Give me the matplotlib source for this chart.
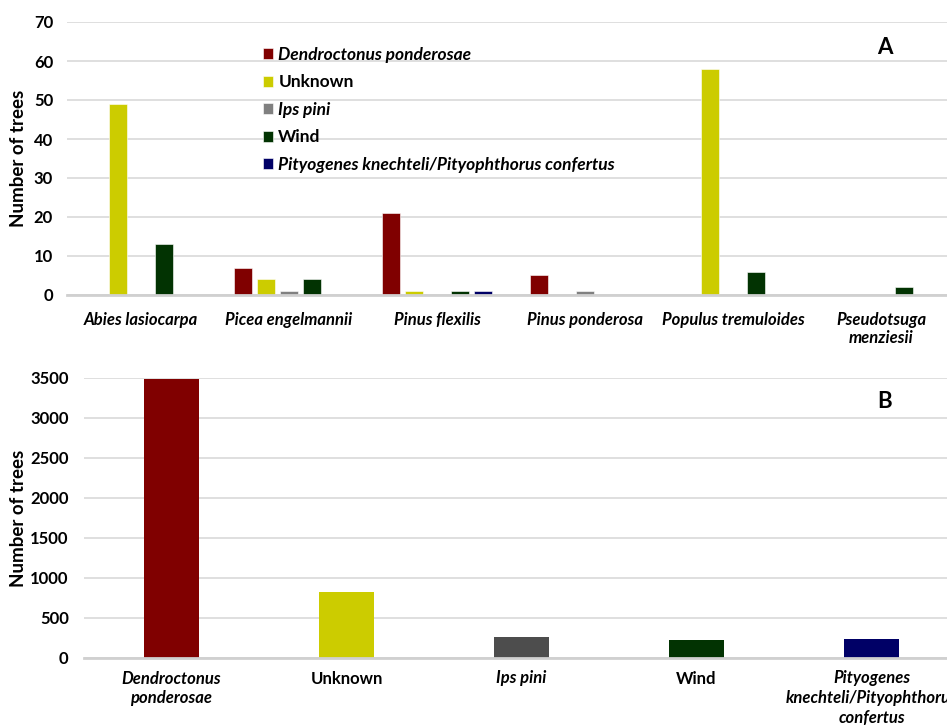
import matplotlib
matplotlib.use("Agg")
import matplotlib.pyplot as plt
import numpy as np

plt.rcParams["font.family"] = ["Lato", "DejaVu Sans"]

# Panel A: trees per host species, split by agent of mortality
species = ["Abies lasiocarpa", "Picea engelmannii", "Pinus flexilis",
           "Pinus ponderosa", "Populus tremuloides", "Pseudotsuga\nmenziesii"]
agents = ["Dendroctonus ponderosae", "Unknown", "Ips pini", "Wind",
          "Pityogenes knechteli/Pityophthorus confertus"]
agent_italic = [True, False, True, False, True]
dendroctonus = [0, 7, 21, 5, 0, 0]
unknown = [49, 4, 1, 0, 58, 0]
ips_pini = [0, 1, 0, 1, 0, 0]
wind = [13, 4, 1, 0, 6, 2]
pityogenes = [0, 0, 1, 0, 0, 0]

# Panel B: total trees per agent
agent_labels_b = ["Dendroctonus\nponderosae", "Unknown", "Ips pini", "Wind",
                  "Pityogenes\nknechteli/Pityophthorus\nconfertus"]
totals_b = [3490, 825, 262, 222, 234]

colors_a = ["#800000", "#cccc00", "#808080", "#023302", "#000066"]
colors_b = ["#800000", "#cccc00", "#4d4d4d", "#023302", "#000066"]

W, H = 947, 725
fig = plt.figure(figsize=(W / 100, H / 100), dpi=100)

def px_axes(left, right, top, bottom):
    return fig.add_axes([left / W, 1 - bottom / H, (right - left) / W, (bottom - top) / H])

def style(ax, ypad):
    for s in ["top", "right", "left"]:
        ax.spines[s].set_visible(False)
    ax.spines["bottom"].set_color("#d0d0d0")
    ax.spines["bottom"].set_linewidth(2.0)
    ax.yaxis.grid(True, color="#d9d9d9", linewidth=1.2)
    ax.set_axisbelow(True)
    ax.tick_params(axis="both", length=0, labelsize=12)
    ax.tick_params(axis="y", pad=ypad)
    for lbl in ax.get_yticklabels():
        lbl.set_fontweight("bold")
    ax.set_ylabel("Number of trees", fontsize=13.5, fontweight="bold")

# ---- Panel A ----
axA = px_axes(67, 955, 22, 295)
series = [dendroctonus, unknown, ips_pini, wind, pityogenes]
x = np.arange(len(species))
slot = 0.155
bw = 0.123
for i, (vals, name, col) in enumerate(zip(series, agents, colors_a)):
    axA.bar(x + (i - 2) * slot, vals, width=bw, color=col, label=name,
            edgecolor="white", linewidth=0.4)
axA.set_xlim(-0.5, len(species) - 0.5)
axA.set_ylim(0, 70)
axA.set_yticks(range(0, 71, 10))
axA.set_xticks(x)
axA.set_xticklabels(species, fontstyle="italic", fontweight="bold", fontsize=12)
axA.tick_params(axis="x", pad=12)
style(axA, 10)
axA.yaxis.set_label_coords(-0.045, 0.5)
leg = axA.legend(loc="upper left", bbox_to_anchor=(263 / W, 1 - 47 / H),
                 bbox_transform=fig.transFigure, frameon=False,
                 handlelength=0.58, handleheight=0.58, handletextpad=0.3,
                 labelspacing=0.66, fontsize=12.5, borderpad=0, borderaxespad=0)
for t, it in zip(leg.get_texts(), agent_italic):
    t.set_fontweight("bold")
    if it:
        t.set_fontstyle("italic")
fig.text(885 / W, 1 - 47 / H, "A", fontsize=16, fontweight="bold",
         ha="center", va="center")

# ---- Panel B ----
axB = px_axes(84, 959, 378, 658)
xb = np.arange(len(agent_labels_b))
axB.bar(xb, totals_b, width=0.314, color=colors_b)
axB.set_xlim(-0.5, len(agent_labels_b) - 0.5)
axB.set_ylim(0, 3500)
axB.set_yticks(range(0, 3501, 500))
axB.set_xticks(xb)
axB.set_xticklabels(agent_labels_b, fontweight="bold", fontsize=12,
                    va="top", linespacing=1.3)
for lbl, it in zip(axB.get_xticklabels(), agent_italic):
    if it:
        lbl.set_fontstyle("italic")
axB.tick_params(axis="x", pad=9)
style(axB, 11)
axB.yaxis.set_label_coords(-0.065, 0.5)
fig.text(885 / W, 1 - 402 / H, "B", fontsize=16, fontweight="bold",
         ha="center", va="center")

fig.savefig("out.png", dpi=100)
